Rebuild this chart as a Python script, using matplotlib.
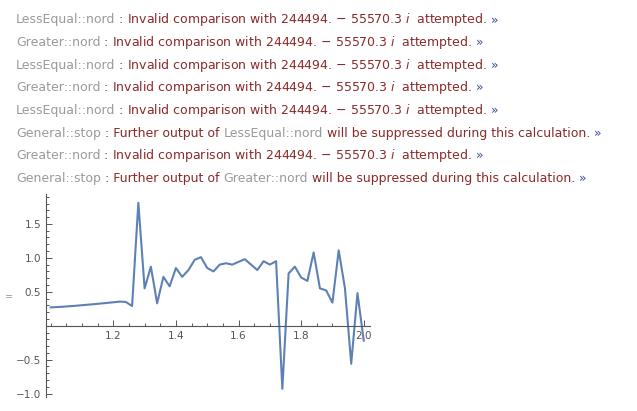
import matplotlib.pyplot as plt
from matplotlib.ticker import MultipleLocator

# plotted values
xs = [1.00, 1.02, 1.04, 1.06, 1.08, 1.10, 1.12, 1.14, 1.16, 1.18, 1.20, 1.22,
      1.24, 1.26, 1.28, 1.30, 1.32, 1.34, 1.36, 1.38, 1.40, 1.42, 1.44, 1.46,
      1.48, 1.50, 1.52, 1.54, 1.56, 1.58, 1.60, 1.62, 1.64, 1.66, 1.68, 1.70,
      1.72, 1.74, 1.76, 1.78, 1.80, 1.82, 1.84, 1.86, 1.88, 1.90, 1.92, 1.94,
      1.96, 1.98, 2.00]
ys = [0.27, 0.275, 0.28, 0.287, 0.294, 0.302, 0.31, 0.318, 0.327, 0.336, 0.345, 0.355,
      0.35, 0.29, 1.81, 0.55, 0.87, 0.33, 0.72, 0.58, 0.85, 0.72, 0.82, 0.97,
      1.01, 0.85, 0.80, 0.90, 0.92, 0.90, 0.94, 0.98, 0.90, 0.82, 0.95, 0.90,
      0.95, -0.93, 0.77, 0.87, 0.71, 0.66, 1.08, 0.55, 0.52, 0.34, 1.11, 0.55,
      -0.56, 0.48, -0.22]

# messages: (tag, body)
invalid = "Invalid comparison with 244494. \u2212 55570.3 $i$  attempted."
messages = [
    ("LessEqual::nord", invalid),
    ("Greater::nord", invalid),
    ("LessEqual::nord", invalid),
    ("Greater::nord", invalid),
    ("LessEqual::nord", invalid),
    ("General::stop", None),
    ("Greater::nord", invalid),
    ("General::stop", None),
]
stop_names = ["LessEqual::nord", "Greater::nord"]

W, H = 637, 411
fig = plt.figure(figsize=(W / 100, H / 100), dpi=100)
gray = "#9a9a9a"
red = "#8b2a2a"
blue = "#3a4aa0"
fs = 9

renderer = fig.canvas.get_renderer()


def put(x, y, s, color):
    t = fig.text(x / W, 1 - y / H, s, color=color, fontsize=fs, va="center", ha="left")
    bb = t.get_window_extent(renderer=renderer)
    return x + bb.width


stop_i = 0
for i, (tag, body) in enumerate(messages):
    y = 20 + i * 22.6
    x = put(16, y, tag, gray)
    if body is not None:
        x = put(x, y, " : " + body, red)
    else:
        x = put(x, y, " : Further output of ", red)
        x = put(x, y, stop_names[stop_i], gray)
        x = put(x, y, " will be suppressed during this calculation.", red)
        stop_i += 1
    put(x + 4, y, "\u00bb", blue)

fig.text(5 / W, 1 - 297 / H, "=", color=gray, fontsize=7, va="center")

ax = fig.add_axes([46 / W, 1 - 397 / H, (370 - 46) / W, (397 - 194) / H])
ax.plot(xs, ys, color="#5e81b5", linewidth=1.5)
ax.set_xlim(0.985, 2.02)
ax.set_ylim(-1.05, 1.94)
ax.spines["top"].set_visible(False)
ax.spines["right"].set_visible(False)
ax.spines["bottom"].set_position(("data", 0))
for s in ("left", "bottom"):
    ax.spines[s].set_color("#555555")
    ax.spines[s].set_linewidth(0.8)
ax.xaxis.set_minor_locator(MultipleLocator(0.05))
ax.yaxis.set_minor_locator(MultipleLocator(0.1))
ax.set_xticks([1.2, 1.4, 1.6, 1.8, 2.0])
ax.set_xticklabels(["1.2", "1.4", "1.6", "1.8", "2.0"])
ax.set_yticks([-1.0, -0.5, 0.5, 1.0, 1.5])
ax.set_yticklabels(["\u22121.0", "\u22120.5", "0.5", "1.0", "1.5"])
ax.tick_params(which="both", direction="in", colors="#555555", labelcolor="#555555",
               labelsize=7.5, width=0.7)
ax.tick_params(which="major", length=4)
ax.tick_params(which="minor", length=2)
ax.patch.set_alpha(0)

fig.savefig("out.png", dpi=100)
